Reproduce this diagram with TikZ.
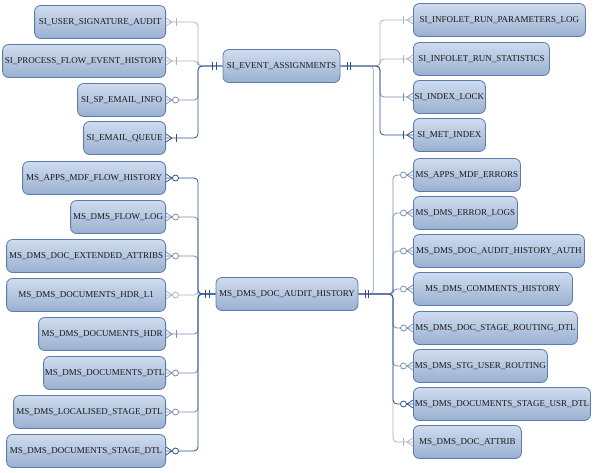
\documentclass[tikz,border=0pt]{standalone}
\usepackage{fontspec}
\setmainfont{Liberation Serif}
\usetikzlibrary{decorations.markings}
\definecolor{boxtop}{HTML}{CFDCEE}
\definecolor{boxbot}{HTML}{9AB0D1}
\definecolor{boxline}{HTML}{5A7BAB}
\definecolor{darkrel}{HTML}{2C5287}
\definecolor{midrel}{HTML}{7A8FB2}
\definecolor{lightrel}{HTML}{ABB4C3}

\begin{document}
\begin{tikzpicture}[x=1pt,y=-1pt,
  tablenode/.style={draw=boxline, line width=0.8pt, top color=boxtop, bottom color=boxbot, rounded corners=6pt, minimum height=33pt, inner sep=1pt, font=\fontsize{9}{10}\selectfont, text=black!90},
  leftnode/.style={tablenode, anchor=east},
  rightnode/.style={tablenode, anchor=west}]
\useasboundingbox (0,0) rectangle (595,472);

            \node[leftnode, minimum width=131pt] (sua) at (166,22) {SI\_USER\_SIGNATURE\_AUDIT};
            \node[leftnode, minimum width=163pt] (pfeh) at (166,61) {SI\_PROCESS\_FLOW\_EVENT\_HISTORY};
            \node[leftnode, minimum width=88pt] (sei) at (166,100) {SI\_SP\_EMAIL\_INFO};
            \node[leftnode, minimum width=82pt] (seq) at (166,138) {SI\_EMAIL\_QUEUE};
            \node[tablenode, minimum width=117pt] (sea) at (281.5,66) {SI\_EVENT\_ASSIGNMENTS};
            \node[rightnode, minimum width=172pt] (irpl) at (413,20) {SI\_INFOLET\_RUN\_PARAMETERS\_LOG};
            \node[rightnode, minimum width=136pt] (irs) at (413,59) {SI\_INFOLET\_RUN\_STATISTICS};
            \node[rightnode, minimum width=72pt] (il) at (413,97) {SI\_INDEX\_LOCK};
            \node[rightnode, minimum width=72pt] (mi) at (413,135) {SI\_MET\_INDEX};

            \node[leftnode, minimum width=143pt] (amfh) at (166,178) {MS\_APPS\_MDF\_FLOW\_HISTORY};
            \node[leftnode, minimum width=95pt] (dfl) at (166,217) {MS\_DMS\_FLOW\_LOG};
            \node[leftnode, minimum width=159pt] (dea) at (166,256) {MS\_DMS\_DOC\_EXTENDED\_ATTRIBS};
            \node[leftnode, minimum width=159pt] (dhl) at (166,295) {MS\_DMS\_DOCUMENTS\_HDR\_L1};
            \node[leftnode, minimum width=127pt] (dh) at (166,334) {MS\_DMS\_DOCUMENTS\_HDR};
            \node[leftnode, minimum width=122pt] (dd) at (166,373) {MS\_DMS\_DOCUMENTS\_DTL};
            \node[leftnode, minimum width=152pt] (dlsd) at (166,412) {MS\_DMS\_LOCALISED\_STAGE\_DTL};
            \node[leftnode, minimum width=159pt] (dsd) at (166,451) {MS\_DMS\_DOCUMENTS\_STAGE\_DTL};
            \node[tablenode, minimum width=142pt] (dah) at (287,294) {MS\_DMS\_DOC\_AUDIT\_HISTORY};
            \node[rightnode, minimum width=107pt] (ame) at (413,175) {MS\_APPS\_MDF\_ERRORS};
            \node[rightnode, minimum width=104pt] (del) at (413,213) {MS\_DMS\_ERROR\_LOGS};
            \node[rightnode, minimum width=171pt] (daha) at (413,251) {MS\_DMS\_DOC\_AUDIT\_HISTORY\_AUTH};
            \node[rightnode, minimum width=159pt] (dch) at (413,289) {MS\_DMS\_COMMENTS\_HISTORY};
            \node[rightnode, minimum width=164pt] (dsrd) at (413,328) {MS\_DMS\_DOC\_STAGE\_ROUTING\_DTL};
            \node[rightnode, minimum width=134pt] (sur) at (413,366) {MS\_DMS\_STG\_USER\_ROUTING};
            \node[rightnode, minimum width=177pt] (dsud) at (413,404) {MS\_DMS\_DOCUMENTS\_STAGE\_USR\_DTL};
            \node[rightnode, minimum width=108pt] (da) at (413,442) {MS\_DMS\_DOC\_ATTRIB};

            \tikzset{rel/.style={line width=0.8pt, rounded corners=4pt, postaction={decorate}}}
            \tikzset{onemany/.style={rel, decoration={markings,
              mark=at position 0pt with {\draw[sharp corners] (0,4pt) -- (6pt,0) -- (0,-4pt);},
              mark=at position 10pt with {\draw (0,4pt) -- (0,-4pt);},
              mark=at position -10pt with {\draw (0,4pt) -- (0,-4pt);},
              mark=at position -6.5pt with {\draw (0,4pt) -- (0,-4pt);}}}}
            \tikzset{zeromany/.style={rel, decoration={markings,
              mark=at position 0pt with {\draw[sharp corners] (0,4pt) -- (6pt,0) -- (0,-4pt);},
              mark=at position 9.5pt with {\draw[fill=white] (0,0) circle (3pt);},
              mark=at position -10pt with {\draw (0,4pt) -- (0,-4pt);},
              mark=at position -6.5pt with {\draw (0,4pt) -- (0,-4pt);}}}}
            \tikzset{oneone/.style={rel, decoration={markings,
              mark=at position 10pt with {\draw (0,4pt) -- (0,-4pt);},
              mark=at position 6.5pt with {\draw (0,4pt) -- (0,-4pt);},
              mark=at position -10pt with {\draw (0,4pt) -- (0,-4pt);},
              mark=at position -6.5pt with {\draw (0,4pt) -- (0,-4pt);}}}}

            \draw[oneone, lightrel] (sea.east) -- ++(33,0) |- (dah.east);

            \draw[onemany, lightrel] (sua.east) -- ++(32,0) |- (sea.west);
            \draw[onemany, lightrel] (pfeh.east) -- ++(32,0) |- (sea.west);
            \draw[zeromany, midrel] (sei.east) -- ++(32,0) |- (sea.west);
            \draw[onemany, darkrel] (seq.east) -- ++(32,0) |- (sea.west);
            \draw[onemany, lightrel] (irpl.west) -- ++(-33,0) |- (sea.east);
            \draw[onemany, lightrel] (irs.west) -- ++(-33,0) |- (sea.east);
            \draw[onemany, midrel] (il.west) -- ++(-33,0) |- (sea.east);
            \draw[onemany, darkrel] (mi.west) -- ++(-33,0) |- (sea.east);

            \draw[zeromany, midrel] (dfl.east) -- ++(32,0) |- (dah.west);
            \draw[zeromany, midrel] (dea.east) -- ++(32,0) |- (dah.west);
            \draw[zeromany, lightrel] (dhl.east) -- ++(32,0) |- (dah.west);
            \draw[onemany, midrel] (dh.east) -- ++(32,0) |- (dah.west);
            \draw[zeromany, midrel] (dd.east) -- ++(32,0) |- (dah.west);
            \draw[zeromany, midrel] (dlsd.east) -- ++(32,0) |- (dah.west);
            \draw[zeromany, darkrel] (amfh.east) -- ++(32,0) |- (dah.west);
            \draw[zeromany, darkrel] (dsd.east) -- ++(32,0) |- (dah.west);
            \draw[onemany, lightrel] (da.west) -- ++(-20,0) |- (dah.east);
            \draw[zeromany, midrel] (ame.west) -- ++(-20,0) |- (dah.east);
            \draw[zeromany, midrel] (del.west) -- ++(-20,0) |- (dah.east);
            \draw[zeromany, midrel] (daha.west) -- ++(-20,0) |- (dah.east);
            \draw[zeromany, midrel] (dch.west) -- ++(-20,0) |- (dah.east);
            \draw[zeromany, midrel] (dsrd.west) -- ++(-20,0) |- (dah.east);
            \draw[zeromany, midrel] (sur.west) -- ++(-20,0) |- (dah.east);
            \draw[zeromany, darkrel] (dsud.west) -- ++(-20,0) |- (dah.east);

        \end{tikzpicture}
\end{document}
